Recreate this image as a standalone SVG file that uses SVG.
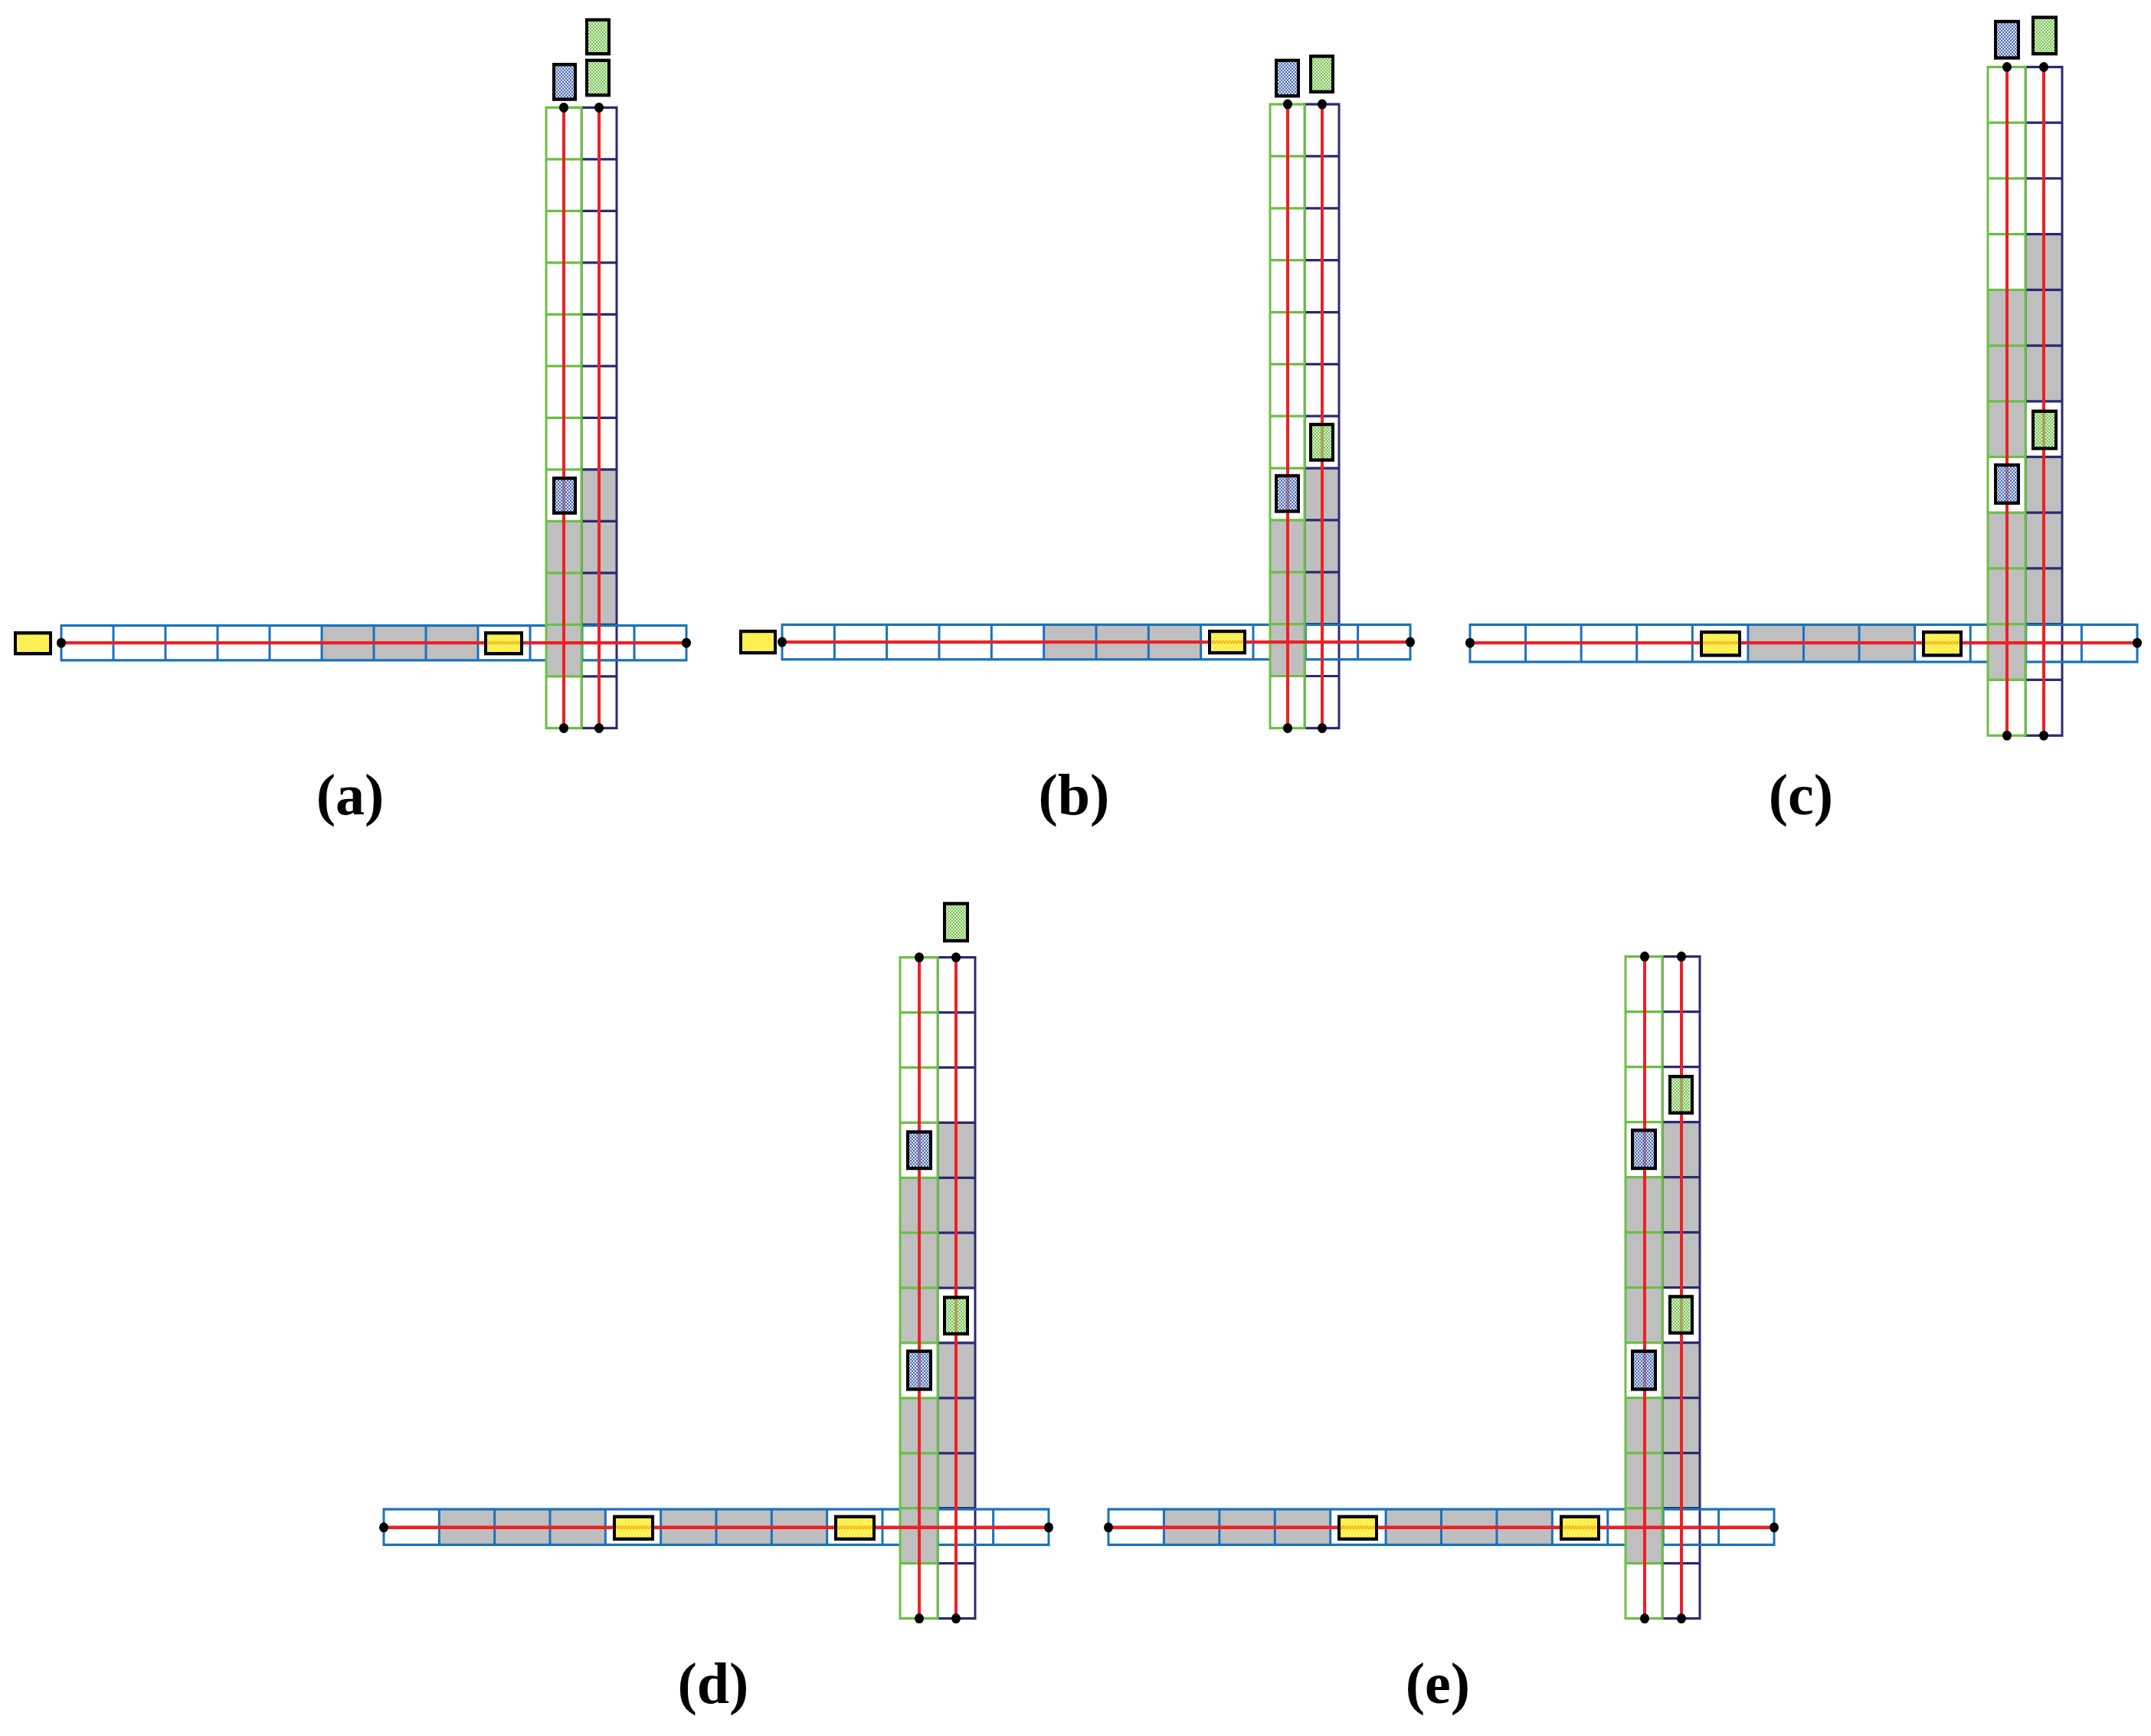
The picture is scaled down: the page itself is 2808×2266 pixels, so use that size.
<svg xmlns="http://www.w3.org/2000/svg" width="2808" height="2266" viewBox="0 0 2808 2266">
<style>
.st{fill:none;stroke:#1a72bb;stroke-width:3}
.gc{fill:none;stroke:#6cbf45;stroke-width:3}
.dc{fill:none;stroke:#2a2a72;stroke-width:3}
.wb{fill:#fff;stroke:none}
.gr{fill:#c0bfc0;stroke:none}
.rd{fill:none;stroke:#ee2024;stroke-width:4}
.dot{fill:#000}
.vy{fill:url(#py);stroke:#000;stroke-width:4}
.vb{fill:url(#pb);stroke:#000;stroke-width:4}
.vg{fill:url(#pg);stroke:#000;stroke-width:4}
.lb{font-family:"Liberation Serif",serif;font-weight:bold;font-size:76px;text-anchor:middle;fill:#000}
</style>
<defs>
<pattern id="py" width="4" height="4" patternUnits="userSpaceOnUse"><rect width="4" height="4" fill="#fff36a" opacity="0.6"/><rect width="2" height="2" fill="#ffe800"/><rect x="2" y="2" width="2" height="2" fill="#ffe800"/></pattern>
<pattern id="pb" width="4" height="4" patternUnits="userSpaceOnUse"><rect width="4" height="4" fill="#dfe6f5" opacity="0.5"/><rect width="2" height="2" fill="#3c5fb0"/><rect x="2" y="2" width="2" height="2" fill="#3c5fb0"/></pattern>
<pattern id="pg" width="4" height="4" patternUnits="userSpaceOnUse"><rect width="4" height="4" fill="#d8efc8" opacity="0.5"/><rect width="2" height="2" fill="#6cbf45"/><rect x="2" y="2" width="2" height="2" fill="#6cbf45"/></pattern>
</defs>
<rect width="2808" height="2266" fill="#fff"/>

<g id="panel-a">
<g transform="matrix(1 0 0 1.08 0 0)">
<rect class="gr" x="759" y="567.5" width="46" height="187.5"/>
<rect class="dc" x="759" y="130" width="46" height="750"/>
<path class="dc" d="M759 192.5h46m-46 62.5h46m-46 62.5h46m-46 62.5h46m-46 62.5h46m-46 62.5h46m-46 62.5h46m-46 62.5h46m-46 62.5h46m-46 62.5h46m-46 62.5h46"/>
<rect class="gr" x="420" y="756" width="204" height="42"/>
<rect class="st" x="80" y="756" width="816" height="42"/>
<path class="st" d="M148 756v42m68-42v42m68-42v42m68-42v42m68-42v42m68-42v42m68-42v42m68-42v42m68-42v42m68-42v42m68-42v42"/>
<rect class="wb" x="713" y="130" width="46" height="750"/>
<rect class="gr" x="713" y="630" width="46" height="187.5"/>
<rect class="gc" x="713" y="130" width="46" height="750"/>
<path class="gc" d="M713 192.5h46m-46 62.5h46m-46 62.5h46m-46 62.5h46m-46 62.5h46m-46 62.5h46m-46 62.5h46m-46 62.5h46m-46 62.5h46m-46 62.5h46m-46 62.5h46"/>
<path class="rd" d="M80 777H896M736 130V880M782 130V880"/>
<rect class="vy" x="20" y="765" width="46" height="25"/><rect class="vy" x="634" y="765" width="47" height="25"/>
<rect class="vb" x="723" y="78" width="28" height="42"/><rect class="vb" x="723" y="578" width="28" height="42"/>
<rect class="vg" x="766" y="24" width="29" height="41"/><rect class="vg" x="766" y="73" width="29" height="42"/>
<circle class="dot" cx="80" cy="777" r="6"/><circle class="dot" cx="896" cy="777" r="6"/><circle class="dot" cx="736" cy="130" r="6"/><circle class="dot" cx="782" cy="130" r="6"/><circle class="dot" cx="736" cy="880" r="6"/><circle class="dot" cx="782" cy="880" r="6"/>
</g>
<text class="lb" x="457" y="1063">(a)</text>
</g>

<g id="panel-b">
<g transform="matrix(1 0 0 1.08 0 0)">
<rect class="gr" x="1703" y="565.8" width="45" height="188.5"/>
<rect class="dc" x="1703" y="126" width="45" height="754"/>
<path class="dc" d="M1703 188.83h45m-45 62.83h45m-45 62.83h45m-45 62.83h45m-45 62.83h45m-45 62.83h45m-45 62.83h45m-45 62.83h45m-45 62.83h45m-45 62.83h45m-45 62.83h45"/>
<rect class="gr" x="1362.7" y="755" width="205" height="42"/>
<rect class="st" x="1021" y="755" width="820" height="42"/>
<path class="st" d="M1089.33 755v42m68.33-42v42m68.33-42v42m68.33-42v42m68.33-42v42m68.33-42v42m68.33-42v42m68.33-42v42m68.33-42v42m68.33-42v42m68.33-42v42"/>
<rect class="wb" x="1658" y="126" width="45" height="754"/>
<rect class="gr" x="1658" y="628.7" width="45" height="188.5"/>
<rect class="gc" x="1658" y="126" width="45" height="754"/>
<path class="gc" d="M1658 188.83h45m-45 62.83h45m-45 62.83h45m-45 62.83h45m-45 62.83h45m-45 62.83h45m-45 62.83h45m-45 62.83h45m-45 62.83h45m-45 62.83h45m-45 62.83h45"/>
<path class="rd" d="M1021 776H1841M1681 126V880M1726 126V880"/>
<rect class="vy" x="967" y="763" width="45" height="26"/><rect class="vy" x="1579" y="763" width="46" height="26"/>
<rect class="vb" x="1666" y="73" width="29" height="43"/><rect class="vb" x="1666" y="575" width="29" height="43"/>
<rect class="vg" x="1711" y="68" width="29" height="43"/><rect class="vg" x="1711" y="513" width="29" height="43"/>
<circle class="dot" cx="1021" cy="776" r="6"/><circle class="dot" cx="1841" cy="776" r="6"/><circle class="dot" cx="1681" cy="126" r="6"/><circle class="dot" cx="1726" cy="126" r="6"/><circle class="dot" cx="1681" cy="880" r="6"/><circle class="dot" cx="1726" cy="880" r="6"/>
</g>
<text class="lb" x="1402" y="1063">(b)</text>
</g>

<g id="panel-c">
<g transform="matrix(1 0 0 1.08 0 0)">
<rect class="gr" x="2644" y="283" width="48" height="202"/>
<rect class="gr" x="2644" y="552.3" width="48" height="202"/>
<rect class="dc" x="2644" y="81" width="48" height="808"/>
<path class="dc" d="M2644 148.33h48m-48 67.33h48m-48 67.33h48m-48 67.33h48m-48 67.33h48m-48 67.33h48m-48 67.33h48m-48 67.33h48m-48 67.33h48m-48 67.33h48m-48 67.33h48"/>
<rect class="gr" x="2281.9" y="755" width="217.7" height="45"/>
<rect class="st" x="1919" y="755" width="871" height="45"/>
<path class="st" d="M1991.58 755v45m72.58-45v45m72.58-45v45m72.58-45v45m72.58-45v45m72.58-45v45m72.58-45v45m72.58-45v45m72.58-45v45m72.58-45v45m72.58-45v45"/>
<rect class="wb" x="2595" y="81" width="49" height="808"/>
<rect class="gr" x="2595" y="350.3" width="49" height="202"/>
<rect class="gr" x="2595" y="619.6" width="49" height="202"/>
<rect class="gc" x="2595" y="81" width="49" height="808"/>
<path class="gc" d="M2595 148.33h49m-49 67.33h49m-49 67.33h49m-49 67.33h49m-49 67.33h49m-49 67.33h49m-49 67.33h49m-49 67.33h49m-49 67.33h49m-49 67.33h49m-49 67.33h49"/>
<path class="rd" d="M1919 777H2790M2620 81V889M2668 81V889"/>
<rect class="vy" x="2221" y="764" width="50" height="28"/><rect class="vy" x="2511" y="764" width="49" height="28"/>
<rect class="vb" x="2605" y="26" width="30" height="44"/><rect class="vb" x="2605" y="562" width="30" height="46"/>
<rect class="vg" x="2654" y="21" width="30" height="44"/><rect class="vg" x="2654" y="497" width="30" height="45"/>
<circle class="dot" cx="1919" cy="777" r="6"/><circle class="dot" cx="2790" cy="777" r="6"/><circle class="dot" cx="2620" cy="81" r="6"/><circle class="dot" cx="2668" cy="81" r="6"/><circle class="dot" cx="2620" cy="889" r="6"/><circle class="dot" cx="2668" cy="889" r="6"/>
</g>
<text class="lb" x="2351" y="1063">(c)</text>
</g>

<g id="panel-d">
<g transform="matrix(1 0 0 1.08 0 -92.8)">
<rect class="gr" x="1224" y="1442.7" width="49" height="199.8"/>
<rect class="gr" x="1224" y="1709.1" width="49" height="199.8"/>
<rect class="dc" x="1224" y="1243" width="49" height="799"/>
<path class="dc" d="M1224 1309.58h49m-49 66.58h49m-49 66.58h49m-49 66.58h49m-49 66.58h49m-49 66.58h49m-49 66.58h49m-49 66.58h49m-49 66.58h49m-49 66.58h49m-49 66.58h49"/>
<rect class="gr" x="573.3" y="1910" width="217" height="43"/>
<rect class="gr" x="862.7" y="1910" width="217" height="43"/>
<rect class="st" x="501" y="1910" width="868" height="43"/>
<path class="st" d="M573.33 1910v43m72.33-43v43m72.33-43v43m72.33-43v43m72.33-43v43m72.33-43v43m72.33-43v43m72.33-43v43m72.33-43v43m72.33-43v43m72.33-43v43"/>
<rect class="wb" x="1175" y="1243" width="49" height="799"/>
<rect class="gr" x="1175" y="1509.3" width="49" height="199.8"/>
<rect class="gr" x="1175" y="1775.6" width="49" height="199.8"/>
<rect class="gc" x="1175" y="1243" width="49" height="799"/>
<path class="gc" d="M1175 1309.58h49m-49 66.58h49m-49 66.58h49m-49 66.58h49m-49 66.58h49m-49 66.58h49m-49 66.58h49m-49 66.58h49m-49 66.58h49m-49 66.58h49m-49 66.58h49"/>
<path class="rd" d="M501 1932H1369M1200 1243V2042M1248 1243V2042"/>
<rect class="vy" x="802" y="1919" width="50" height="27"/><rect class="vy" x="1091" y="1919" width="50" height="27"/>
<rect class="vg" x="1233" y="1178" width="30" height="45"/><rect class="vg" x="1233" y="1654" width="30" height="44"/>
<rect class="vb" x="1185" y="1454" width="30" height="44"/><rect class="vb" x="1185" y="1719" width="30" height="46"/>
<circle class="dot" cx="501" cy="1932" r="6"/><circle class="dot" cx="1369" cy="1932" r="6"/><circle class="dot" cx="1200" cy="1243" r="6"/><circle class="dot" cx="1248" cy="1243" r="6"/><circle class="dot" cx="1200" cy="2042" r="6"/><circle class="dot" cx="1248" cy="2042" r="6"/>
</g>
<text class="lb" x="931" y="2223">(d)</text>
</g>

<g id="panel-e">
<g transform="matrix(1 0 0 1.08 0 -92.8)">
<rect class="gr" x="2170" y="1442" width="49" height="200"/>
<rect class="gr" x="2170" y="1708.7" width="49" height="200"/>
<rect class="dc" x="2170" y="1242" width="49" height="800"/>
<path class="dc" d="M2170 1308.67h49m-49 66.67h49m-49 66.67h49m-49 66.67h49m-49 66.67h49m-49 66.67h49m-49 66.67h49m-49 66.67h49m-49 66.67h49m-49 66.67h49m-49 66.67h49"/>
<rect class="gr" x="1519.4" y="1910" width="217.3" height="43"/>
<rect class="gr" x="1809.1" y="1910" width="217.3" height="43"/>
<rect class="st" x="1447" y="1910" width="869" height="43"/>
<path class="st" d="M1519.42 1910v43m72.42-43v43m72.42-43v43m72.42-43v43m72.42-43v43m72.42-43v43m72.42-43v43m72.42-43v43m72.42-43v43m72.42-43v43m72.42-43v43"/>
<rect class="wb" x="2122" y="1242" width="48" height="800"/>
<rect class="gr" x="2122" y="1508.7" width="48" height="200"/>
<rect class="gr" x="2122" y="1775.3" width="48" height="200"/>
<rect class="gc" x="2122" y="1242" width="48" height="800"/>
<path class="gc" d="M2122 1308.67h48m-48 66.67h48m-48 66.67h48m-48 66.67h48m-48 66.67h48m-48 66.67h48m-48 66.67h48m-48 66.67h48m-48 66.67h48m-48 66.67h48m-48 66.67h48"/>
<path class="rd" d="M1447 1932H2316M2147 1242V2042M2195 1242V2042"/>
<rect class="vy" x="1748" y="1919" width="49" height="27"/><rect class="vy" x="2038" y="1919" width="49" height="27"/>
<rect class="vg" x="2180" y="1387" width="29" height="44"/><rect class="vg" x="2180" y="1653" width="29" height="44"/>
<rect class="vb" x="2131" y="1452" width="30" height="46"/><rect class="vb" x="2131" y="1719" width="30" height="46"/>
<circle class="dot" cx="1447" cy="1932" r="6"/><circle class="dot" cx="2316" cy="1932" r="6"/><circle class="dot" cx="2147" cy="1242" r="6"/><circle class="dot" cx="2195" cy="1242" r="6"/><circle class="dot" cx="2147" cy="2042" r="6"/><circle class="dot" cx="2195" cy="2042" r="6"/>
</g>
<text class="lb" x="1877" y="2223">(e)</text>
</g>
<g id="connectors"/>
</svg>
